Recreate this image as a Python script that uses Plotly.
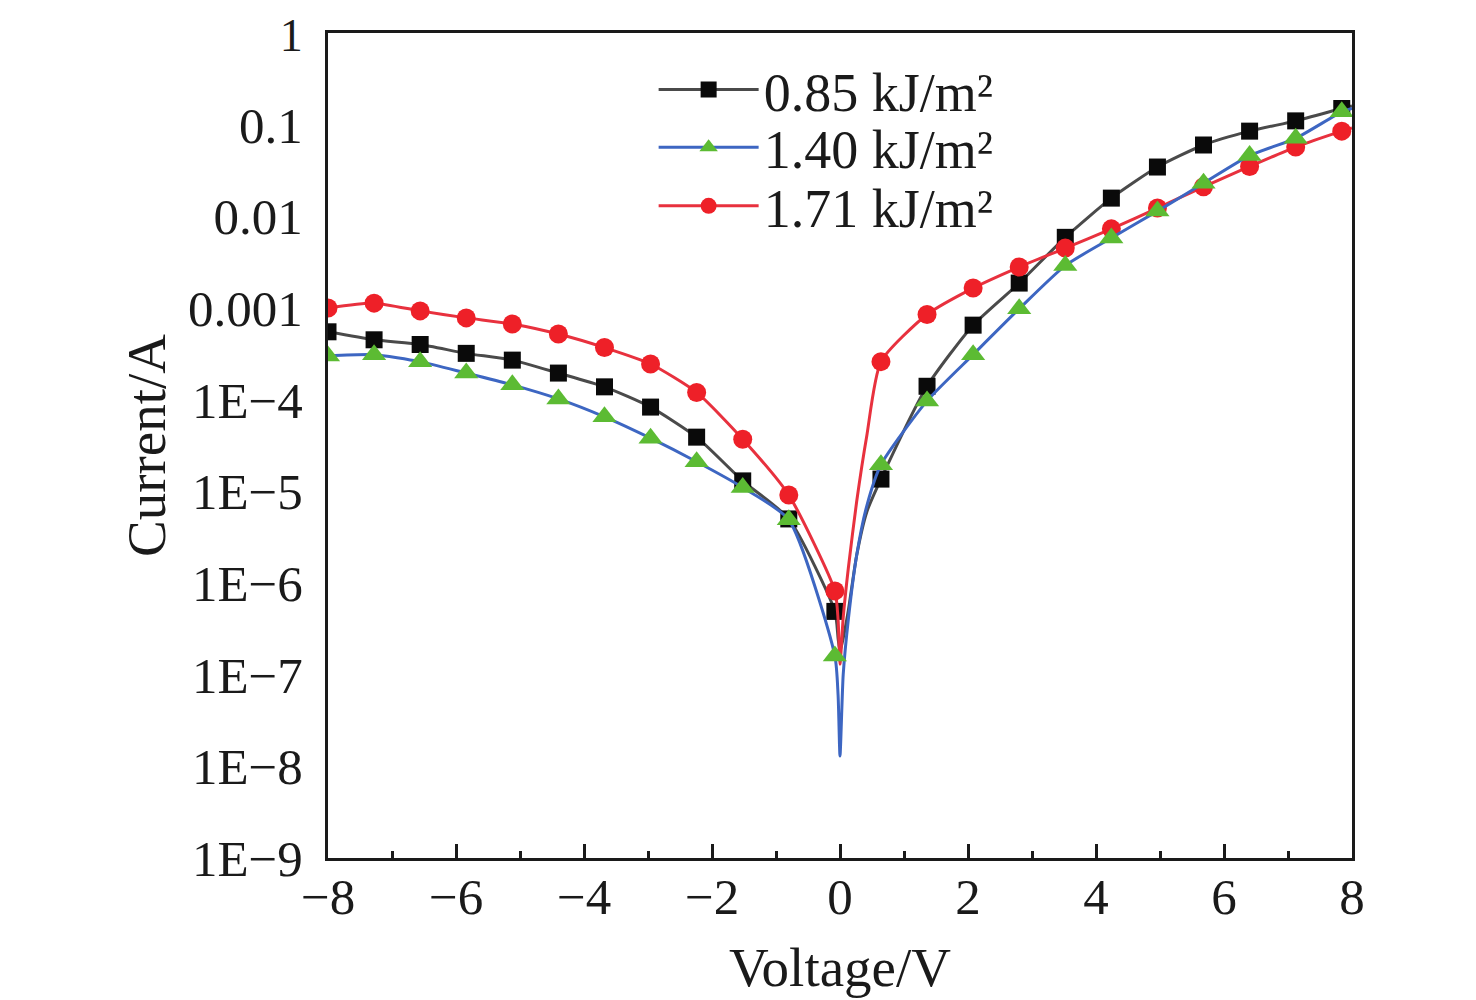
import plotly.graph_objects as go

# --------------------------------------------------------------- #
#### Data ####
# --------------------------------------------------------------- #
voltage_marks = [-8.0, -7.28, -6.56, -5.84, -5.12, -4.40, -3.68, -2.96, -2.24,
                 -1.52, -0.80, -0.08, 0.64, 1.36, 2.08, 2.80, 3.52, 4.24,
                 4.96, 5.68, 6.40, 7.12, 7.84]

current_085 = [5.5e-4, 4.5e-4, 4.0e-4, 3.2e-4, 2.7e-4, 1.95e-4, 1.38e-4, 8.3e-5,
               3.9e-5, 1.3e-5, 5.0e-6, 4.9e-7, 1.36e-5, 1.4e-4, 6.5e-4, 1.87e-3,
               5.9e-3, 0.0158, 0.0345, 0.060, 0.085, 0.11, 0.15]
current_140 = [3.0e-4, 3.1e-4, 2.6e-4, 1.95e-4, 1.45e-4, 1.02e-4, 6.5e-5, 3.8e-5,
               2.1e-5, 1.1e-5, 4.9e-6, 1.6e-7, 1.95e-5, 9.7e-5, 3.1e-4, 9.8e-4,
               2.9e-3, 5.8e-3, 0.0114, 0.023, 0.046, 0.071, 0.138]
current_171 = [1.0e-3, 1.13e-3, 9.3e-4, 7.8e-4, 6.7e-4, 5.2e-4, 3.7e-4, 2.45e-4,
               1.2e-4, 3.7e-5, 9.1e-6, 8.2e-7, 2.6e-4, 8.5e-4, 1.65e-3, 2.8e-3,
               4.5e-3, 7.3e-3, 0.0123, 0.021, 0.035, 0.057, 0.085]

# extra line points (no markers) read near the dip at 0 V and at the right edge
voltage_dip = [-0.03, 0.0, 0.05, 0.13, 0.26, 0.42, 8.0]
dip_085 = [2.5e-7, 1.8e-7, 2.5e-7, 5.0e-7, 2.0e-6, 6.0e-6, 0.16]
dip_140 = [6.0e-8, 1.3e-8, 1.0e-7, 4.0e-7, 2.0e-6, 7.0e-6, 0.15]
dip_171 = [4.0e-7, 1.3e-7, 4.2e-7, 1.45e-6, 7.7e-6, 4.1e-5, 0.092]

labels = ["0.85 kJ/m²", "1.40 kJ/m²", "1.71 kJ/m²"]

y_tickvals = [1, 0.1, 0.01, 0.001, 1e-4, 1e-5, 1e-6, 1e-7, 1e-8, 1e-9]
# top label a touch smaller so it is not clipped at the page edge
y_ticktext = ["<span style='font-size:46px'>1</span>", "0.1", "0.01", "0.001",
              "1E\u22124", "1E\u22125", "1E\u22126", "1E\u22127", "1E\u22128", "1E\u22129"]
x_tickvals = [-8, -6, -4, -2, 0, 2, 4, 6, 8]
x_ticktext = ["\u22128", "\u22126", "\u22124", "\u22122", "0", "2", "4", "6", "8"]


def merged_line(xm, ym, xd, yd):
    pts = sorted(zip(list(xm) + list(xd), list(ym) + list(yd)))
    return [p[0] for p in pts], [p[1] for p in pts]


styles = [
    dict(line="#4a4a4a", marker="#0a0a0a", symbol="square", size=17),
    dict(line="#3d66c2", marker="#5cbb33", symbol="triangle-up", size=21),
    dict(line="#e8313e", marker="#ee2028", symbol="circle", size=19),
]
series = [current_085, current_140, current_171]
dips = [dip_085, dip_140, dip_171]

fig = go.Figure()

# draw order: black, red, blue on top
for i in [0, 2, 1]:
    st = styles[i]
    lx, ly = merged_line(voltage_marks, series[i], voltage_dip, dips[i])
    fig.add_trace(go.Scatter(x=lx, y=ly, mode="lines",
                             line=dict(color=st["line"], width=3, shape="spline", smoothing=0.6),
                             showlegend=False, hoverinfo="skip"))
    fig.add_trace(go.Scatter(x=voltage_marks, y=series[i], mode="markers",
                             marker=dict(color=st["marker"], symbol=st["symbol"], size=st["size"]),
                             showlegend=False))

# legend entries, one legend box per row so the row spacing matches
legend_names = ["legend", "legend2", "legend3"]
for i in range(3):
    st = styles[i]
    fig.add_trace(go.Scatter(x=[None], y=[None], mode="lines+markers", name=labels[i],
                             line=dict(color=st["line"], width=3),
                             marker=dict(color=st["marker"], symbol=st["symbol"], size=st["size"]),
                             legend=legend_names[i]))

font_name = "Liberation Serif"
legend_rows = [0.931, 0.861, 0.790]


def legend_box(yy):
    return dict(x=0.318, y=yy, xanchor="left", yanchor="middle",
                bgcolor="rgba(0,0,0,0)", font=dict(size=54), itemwidth=100)


# the page body adds 8px on the top/left, so the figure is made smaller
fig.update_layout(
    width=1468, height=997,
    margin=dict(l=320, r=124, t=25, b=147),
    paper_bgcolor="white", plot_bgcolor="white",
    font=dict(family=font_name, size=51, color="#1a1a1a"),
    showlegend=True,
    legend=legend_box(legend_rows[0]),
    legend2=legend_box(legend_rows[1]),
    legend3=legend_box(legend_rows[2]),
)
fig.update_xaxes(
    range=[-8, 8], tickvals=x_tickvals, ticktext=x_ticktext,
    ticks="inside", ticklen=14, tickwidth=3, tickcolor="#1a1a1a",
    ticklabelstandoff=-8, ticklabeloverflow="allow",
    minor=dict(dtick=1, ticks="inside", ticklen=7, tickwidth=3, tickcolor="#1a1a1a"),
    showline=True, linecolor="#1a1a1a", linewidth=3, mirror=True,
    showgrid=False, zeroline=False, automargin=False,
    title=dict(text="Voltage/V", font=dict(size=55), standoff=24),
)
fig.update_yaxes(
    type="log", range=[-9, 0], tickvals=y_tickvals, ticktext=y_ticktext,
    ticks="", ticklabelstandoff=12, ticklabeloverflow="allow",
    showline=True, linecolor="#1a1a1a", linewidth=3, mirror=True,
    showgrid=False, zeroline=False, automargin=False,
    title=dict(text="Current/A", font=dict(size=55), standoff=5),
)

fig.write_html("out.html")
